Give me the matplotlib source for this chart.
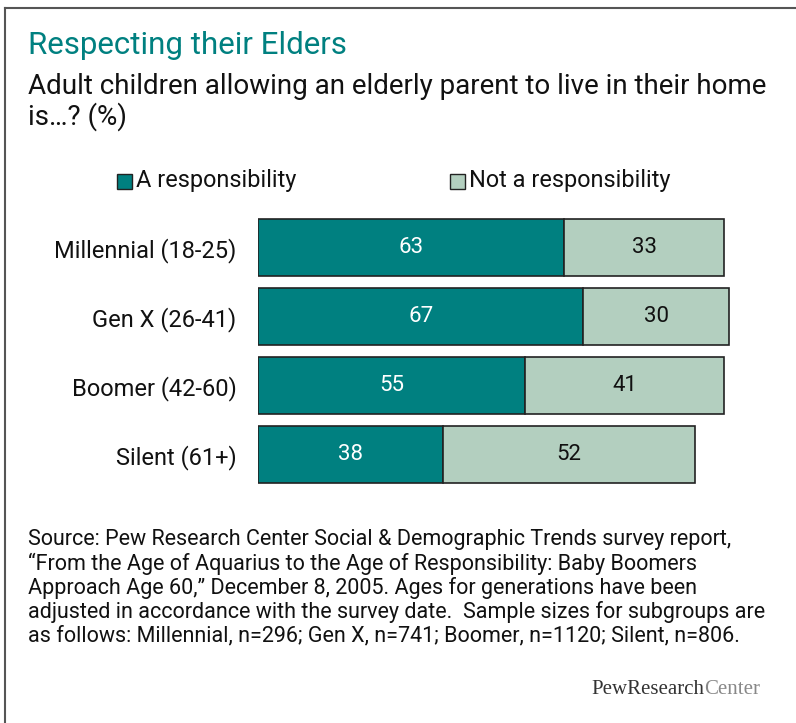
import matplotlib
matplotlib.use("Agg")
import matplotlib.pyplot as plt
from matplotlib.patches import Rectangle
from matplotlib.lines import Line2D

categories = ["Millennial (18-25)", "Gen X (26-41)", "Boomer (42-60)", "Silent (61+)"]
responsibility = [63, 67, 55, 38]
not_responsibility = [33, 30, 41, 52]
series_names = ["A responsibility", "Not a responsibility"]

TEAL = "#008080"
LIGHT = "#b3cfbf"
FONT = ["Roboto", "DejaVu Sans"]
plt.rcParams['font.family'] = FONT

W, H = 796, 723
fig = plt.figure(figsize=(W / 100, H / 100), dpi=100)

def fx(px):
    return px / W

def fy(py):
    return 1 - py / H

# frame
fig.add_artist(Line2D([fx(5), 1], [fy(8), fy(8)], color="#555555", lw=1.5))
fig.add_artist(Line2D([fx(5), fx(5)], [fy(8), 0], color="#555555", lw=1.5))

fig.text(fx(28), fy(45), "Respecting their Elders", color=TEAL, fontsize=22.5, va="center", ha="left")
fig.text(fx(28), fy(87), "Adult children allowing an elderly parent to live in their home", color="#111111",
         fontsize=20, va="center", ha="left")
fig.text(fx(28), fy(117), "is\u2026? (%)", color="#111111", fontsize=20, va="center", ha="left")

# legend
for (lx, name, col) in [(117, series_names[0], TEAL), (450, series_names[1], LIGHT)]:
    fig.add_artist(Rectangle((fx(lx), fy(189)), fx(15), 15 / H, facecolor=col, edgecolor="#222222", lw=1))
    fig.text(fx(lx + 19), fy(181), name, fontsize=16.9, va="center", ha="left", color="#111111")

left_px, unit_px = 258, 306 / 63
ax = fig.add_axes([fx(left_px), fy(489), 100 * unit_px / W, 276 / H])
ax.set_xlim(0, 100)
ax.set_ylim(3.5, -0.5)
ypos = list(range(len(categories)))
ax.barh(ypos, responsibility, height=0.826, color=TEAL, edgecolor="#222222", linewidth=1.2)
ax.barh(ypos, not_responsibility, left=responsibility, height=0.826, color=LIGHT,
        edgecolor="#222222", linewidth=1.2)
for y, a, b in zip(ypos, responsibility, not_responsibility):
    ax.text(a / 2, y, str(a), color="white", fontsize=16, ha="center", va="center")
    ax.text(a + b / 2, y, str(b), color="#111111", fontsize=16, ha="center", va="center")
ax.set_yticks(ypos)
ax.set_yticklabels(categories, fontsize=17, color="#111111")
ax.tick_params(axis="y", length=0, pad=15.5)
ax.set_xticks([])
for s in ax.spines.values():
    s.set_visible(False)

footer = ["Source: Pew Research Center Social & Demographic Trends survey report,",
          "\u201cFrom the Age of Aquarius to the Age of Responsibility: Baby Boomers",
          "Approach Age 60,\u201d December 8, 2005. Ages for generations have been",
          "adjusted in accordance with the survey date.  Sample sizes for subgroups are",
          "as follows: Millennial, n=296; Gen X, n=741; Boomer, n=1120; Silent, n=806."]
for i, line in enumerate(footer):
    fig.text(fx(28), fy(540 + 24 * i), line, fontsize=15.5, va="center", ha="left", color="#111111")

SERIF = ["Liberation Serif", "DejaVu Serif"]
tc = fig.text(fx(760), fy(690), "Center", fontsize=15, family=SERIF, color="#888888",
              va="center", ha="right")
fig.canvas.draw()
bb = tc.get_window_extent(fig.canvas.get_renderer())
fig.text(bb.x0 / W, fy(690), "PewResearch", fontsize=15, family=SERIF, color="#333333",
         va="center", ha="right")

fig.savefig("out.png", dpi=100)
